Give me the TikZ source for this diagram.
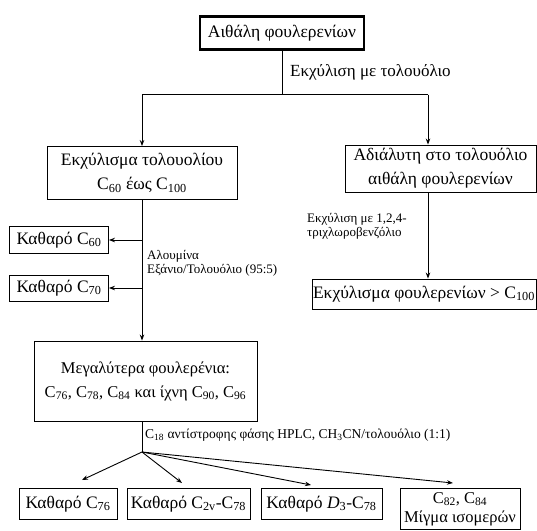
\documentclass[tikz,border=0pt]{standalone}
\usepackage{fontspec}
\setmainfont{Liberation Serif}
\usetikzlibrary{arrows.meta, calc, positioning}
\newcommand{\Cn}[1]{C\textsubscript{#1}}

\begin{document}
\begin{tikzpicture}[x=1pt, y=-1pt,
    font=\fontsize{17.5}{24}\selectfont,
    stagebox/.style={draw=black, line width=0.9pt, align=center, inner sep=0pt},
    topbox/.style={stagebox, line width=2.6pt},
    move/.style={-{Stealth[length=6pt, width=4.5pt]}, line width=0.9pt, black},
    lab/.style={font=\fontsize{13}{14}\selectfont, align=left, inner sep=0pt}
]
\useasboundingbox (0,0) rectangle (537,530);
\node[topbox, minimum width=164, minimum height=33] (T) at (282,33) {Αιθάλη φουλερενίων};
\node[stagebox, minimum width=190, minimum height=53] (E) at (142,173)
    {Εκχύλισμα τολουολίου\\ \Cn{60} έως \Cn{100}};
\node[stagebox, minimum width=191, minimum height=47] (A) at (440.5,168.5)
    {Αδιάλυτη στο τολουόλιο\\ αιθάλη φουλερενίων};
\node[stagebox, minimum width=99, minimum height=27] (P60) at (59,240) {Καθαρό \Cn{60}};
\node[stagebox, minimum width=99, minimum height=26] (P70) at (59,288) {Καθαρό \Cn{70}};
\node[stagebox, minimum width=224, minimum height=30] (X) at (424,294)
    {Εκχύλισμα φουλερενίων > \Cn{100}};
\node[stagebox, minimum width=223, minimum height=80, font=\fontsize{16.5}{24}\selectfont]
    (M) at (145.5,381)
    {Μεγαλύτερα φουλερένια:\\ \Cn{76}, \Cn{78}, \Cn{84} και ίχνη \Cn{90}, \Cn{96}};
\node[stagebox, minimum width=98, minimum height=31] (P76) at (68,504) {Καθαρό \Cn{76}};
\node[stagebox, minimum width=123, minimum height=31] (P78a) at (188.5,504)
    {Καθαρό \Cn{2v}-\Cn{78}};
\node[stagebox, minimum width=121, minimum height=31] (P78b) at (321.5,504)
    {Καθαρό \textit{D}\textsubscript{3}-\Cn{78}};
\node[stagebox, minimum width=120, minimum height=41, font=\fontsize{16.5}{24}\selectfont]
    (Mix) at (460,509)
    {\Cn{82}, \Cn{84}\\[-5pt] Μίγμα ισομερών};
% labels
\node[lab, anchor=west] at (290,72) {\fontsize{17}{18}\selectfont Εκχύλιση με τολουόλιο};
\node[lab, anchor=west] at (147,263.5) {Αλουμίνα\\ Εξάνιο/Τολουόλιο (95:5)};
\node[lab, anchor=west] at (307,226) {Εκχύλιση με 1,2,4-\\ τριχλωροβενζόλιο};
\node[lab, anchor=west, font=\fontsize{13.5}{14}\selectfont] at (145,435)
    {\Cn{18} αντίστροφης φάσης HPLC, CH\textsubscript{3}CN/τολουόλιο (1:1)};
% connectors
\coordinate (split) at (T.south |- 0,94.5);
\coordinate (rx) at (428,94.5);
\coordinate (fork) at (142,452);
\draw[line width=0.9pt] (T.south) -- (split);
\draw[line width=0.9pt] (E.north |- split) -- (rx);
\draw[move] (E.north |- split) -- (E.north);
\draw[move] (rx) -- (A.north -| rx);
\draw[move] (A.south -| rx) -- (X.north -| rx);
\draw[move] (E.south) -- (M.north -| E.south);
\draw[move] (E.south |- P60.east) -- (P60.east);
\draw[move] (E.south |- P70.east) -- (P70.east);
\draw[line width=0.9pt] (M.south -| fork) -- (fork);
\coordinate (t76) at (82,480);
\coordinate (t78a) at (182,483);
\coordinate (t78b) at (311,485);
\coordinate (tmix) at (453,483);
\foreach \t in {t76, t78a, t78b, tmix}
    \draw[move] (fork) -- (\t);
\end{tikzpicture}
\end{document}
